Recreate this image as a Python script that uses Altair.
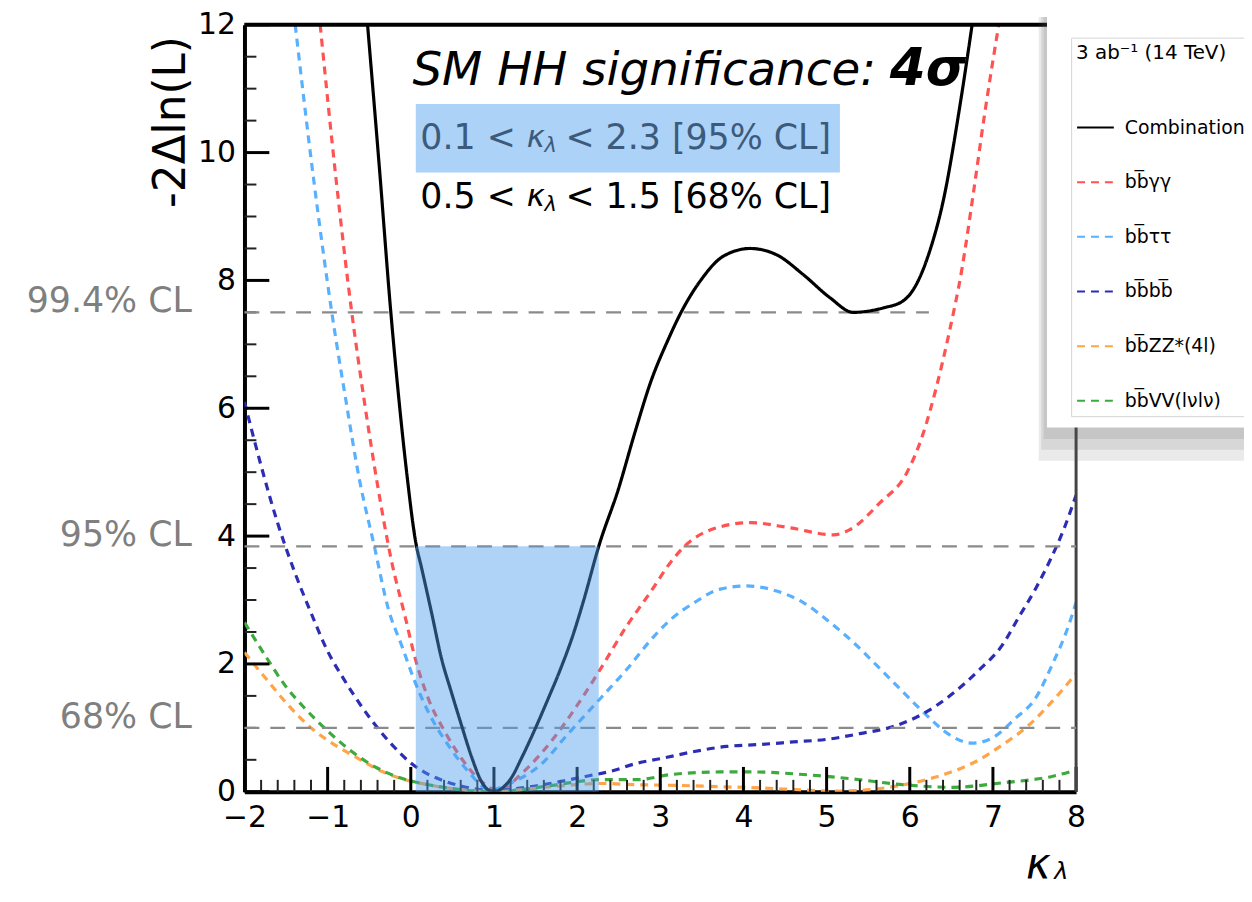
import altair as alt
import pandas as pd

# ---------------- data ----------------
series_names = ["Combination", "bb\u0305\u03b3\u03b3", "bb\u0305\u03c4\u03c4", "bb\u0305bb\u0305",
                "bb\u0305ZZ*(4l)", "bb\u0305VV(l\u03bdl\u03bd)"]
series_colors = ["#000000", "#ff5252", "#58b0ff", "#2c2cb4", "#ffa448", "#3caa3c"]

comb_k = [-0.52, -0.38, -0.24, -0.14, -0.05, 0.06, 0.13, 0.25, 0.37, 0.49, 0.61, 0.73, 0.85, 0.93, 1.0,
          1.08, 1.2, 1.34, 1.48, 1.64, 1.8, 1.95, 2.08, 2.26, 2.5, 2.69, 2.89, 3.09, 3.25, 3.48,
          3.76, 4.08, 4.4, 4.72, 5.04, 5.32, 5.68, 5.92, 6.08, 6.24, 6.4, 6.61, 6.75]
comb_v = [12, 9.8, 7.5, 6.1, 5.0, 3.9, 3.5, 2.8, 2.08, 1.55, 1.04, 0.55, 0.16, 0.03, 0.0,
          0.04, 0.2, 0.55, 0.94, 1.42, 1.92, 2.45, 3.0, 3.84, 4.75, 5.6, 6.43, 7.06, 7.5, 7.99,
          8.38, 8.5, 8.4, 8.09, 7.73, 7.5, 7.57, 7.68, 7.94, 8.46, 9.23, 10.79, 12]

yy_k = [-1.09, -0.9, -0.71, -0.56, -0.4, -0.23, -0.07, 0.05, 0.21, 0.41, 0.61, 0.85, 1.05, 1.36, 1.72,
        2.0, 2.28, 2.6, 2.88, 3.13, 3.3, 3.68, 4.08, 4.56, 5.08, 5.28, 5.64, 5.96, 6.16, 6.32,
        6.47, 6.63, 6.75, 6.9, 7.07]
yy_v = [12, 9.6, 7.5, 6.12, 4.8, 3.6, 2.75, 2.1, 1.46, 0.94, 0.52, 0.16, 0.02, 0.32, 0.84,
        1.35, 1.92, 2.6, 3.12, 3.6, 3.85, 4.13, 4.21, 4.13, 4.02, 4.1, 4.52, 4.98, 5.6, 6.33,
        7.16, 8.2, 9.23, 10.6, 12]

tt_k = [-1.39, -1.17, -0.95, -0.78, -0.62, -0.44, -0.27, -0.11, 0.05, 0.21, 0.45, 0.69, 0.95, 1.24, 1.56,
        1.88, 2.28, 2.6, 2.93, 3.13, 3.41, 3.72, 4.04, 4.4, 4.72, 5.04, 5.32, 5.6, 5.92, 6.2,
        6.48, 6.75, 6.99, 7.27, 7.51, 7.71, 7.91, 8.0]
tt_v = [12, 9.6, 7.5, 6.12, 4.9, 3.85, 2.86, 2.29, 1.72, 1.25, 0.73, 0.32, 0.03, 0.16, 0.42,
        0.89, 1.46, 1.92, 2.44, 2.7, 2.96, 3.17, 3.22, 3.14, 2.96, 2.65, 2.34, 1.98, 1.56, 1.2,
        0.89, 0.76, 0.84, 1.15, 1.46, 1.98, 2.6, 2.96]

bb_k = [-2.0, -1.8, -1.6, -1.4, -1.2, -1.0, -0.8, -0.6, -0.4, -0.2, 0.0, 0.2, 0.4, 0.6, 0.8,
        1.0, 1.2, 1.5, 1.8, 2.1, 2.4, 2.73, 3.01, 3.41, 3.8, 4.2, 4.6, 5.0, 5.4, 5.8,
        6.2, 6.52, 6.83, 7.11, 7.31, 7.51, 7.69, 7.85, 8.0]
bb_v = [6.1, 5.1, 4.2, 3.45, 2.8, 2.2, 1.75, 1.35, 1.0, 0.7, 0.45, 0.28, 0.17, 0.09, 0.04,
        0.02, 0.04, 0.09, 0.16, 0.24, 0.32, 0.45, 0.52, 0.63, 0.71, 0.74, 0.78, 0.82, 0.91, 1.02,
        1.25, 1.54, 1.9, 2.29, 2.73, 3.17, 3.63, 4.1, 4.64]

zz_k = [-2.0, -1.71, -1.47, -1.19, -0.91, -0.63, -0.35, -0.07, 0.21, 0.5, 0.8, 1.0, 1.3, 1.7, 2.28,
        2.73, 3.2, 3.7, 4.2, 4.7, 5.1, 5.4, 5.8, 6.2, 6.52, 6.79, 7.11, 7.43, 7.71, 8.0]
zz_v = [2.18, 1.72, 1.35, 0.99, 0.73, 0.52, 0.32, 0.19, 0.11, 0.05, 0.01, 0.0, 0.03, 0.08, 0.13,
        0.11, 0.1, 0.08, 0.06, 0.03, 0.01, 0.02, 0.08, 0.19, 0.32, 0.47, 0.73, 1.04, 1.41, 1.85]

vv_k = [-2.0, -1.75, -1.51, -1.27, -0.99, -0.71, -0.43, -0.11, 0.21, 0.5, 0.8, 1.0, 1.3, 1.7, 2.28,
        2.73, 3.13, 3.72, 4.12, 4.72, 5.32, 5.92, 6.52, 7.11, 7.71, 8.0]
vv_v = [2.65, 2.13, 1.66, 1.3, 0.94, 0.63, 0.39, 0.21, 0.11, 0.05, 0.01, 0.0, 0.03, 0.1, 0.19,
        0.19, 0.27, 0.31, 0.31, 0.27, 0.2, 0.11, 0.07, 0.14, 0.24, 0.34]

cl_levels = [1.0, 3.84, 7.5]
cl_labels = ["68% CL", "95% CL", "99.4% CL"]
cl_starts = [-2.0, -2.0, -2.0]
cl_ends = [8.0, 8.0, 6.23]

band_lo, band_hi, band_top = 0.06, 2.26, 3.84

x_major = list(range(-2, 9))
x_minor = [round(-2 + 0.2 * i, 1) for i in range(51) if i % 5 != 0]
y_major = [0, 2, 4, 6, 8, 10, 12]
y_minor = [0.5 * i for i in range(25) if i % 4 != 0]

# ---------------- tables ----------------
rows = []
for name, ks, vs in zip(series_names, [comb_k, yy_k, tt_k, bb_k, zz_k, vv_k],
                        [comb_v, yy_v, tt_v, bb_v, zz_v, vv_v]):
    for i, (k, v) in enumerate(zip(ks, vs)):
        rows.append({"series": name, "k": k, "v": v, "idx": i})
curves = pd.DataFrame(rows)
cl_df = pd.DataFrame({"v": cl_levels, "label": cl_labels, "k0": cl_starts, "k1": cl_ends})
one = pd.DataFrame({"_": [0]})

FONT = "DejaVu Sans"
xs = alt.Scale(domain=[-2, 8], nice=False, zero=False)
ys = alt.Scale(domain=[0, 12], nice=False, zero=False)

x_axis = alt.Axis(values=x_major, ticks=False, grid=False, labelFont=FONT, labelFontSize=30,
                  labelColor="black", labelPadding=11, labelFlush=False, domainColor="black",
                  domainWidth=4, title=None)
y_axis = alt.Axis(values=y_major, ticks=False, grid=False, labelFont=FONT, labelFontSize=30,
                  labelColor="black", labelPadding=9, labelFlush=False, domainColor="black",
                  domainWidth=4, title="-2\u0394ln(L)", titleFont=FONT, titleFontSize=44,
                  titleFontWeight="normal", titleColor="black", titleAngle=270, titleAlign="right",
                  titleBaseline="bottom", titleX=-51, titleY=11)

legend = alt.Legend(
    title="3 ab\u207b\u00b9 (14 TeV)", orient="none", legendX=832, legendY=13,
    symbolType="stroke", symbolSize=1369, symbolStrokeWidth=2,
    labelFont=FONT, labelFontSize=19, labelColor="black", labelOffset=10, labelLimit=400,
    titleFont=FONT, titleFontSize=20, titleFontWeight="normal", titleColor="black",
    titlePadding=46, rowPadding=25, padding=5, fillColor="white", strokeColor="#d4d4d4",
)

color_scale = alt.Scale(domain=series_names, range=series_colors)
dash_scale = alt.Scale(domain=series_names, range=[[1, 0]] + [[8, 6]] * 5)


def XF(f):
    return alt.X(f, scale=xs, axis=x_axis)


def YF(f):
    return alt.Y(f, scale=ys, axis=y_axis)


def XD(v):
    return alt.XDatum(v, scale=xs, axis=x_axis)


def YD(v):
    return alt.YDatum(v, scale=ys, axis=y_axis)


def text_layer(text, kx, vy, **kw):
    return alt.Chart(one).mark_text(text=text, **kw).encode(x=XD(kx), y=YD(vy))


def rect_layer(k0, k1, v0, v1, **kw):
    return alt.Chart(one).mark_rect(**kw).encode(
        x=XD(k0), x2=alt.X2Datum(k1), y=YD(v0), y2=alt.Y2Datum(v1))


def rule_layer(k0, k1, v0, v1, **kw):
    return alt.Chart(one).mark_rule(**kw).encode(
        x=XD(k0), x2=alt.X2Datum(k1), y=YD(v0), y2=alt.Y2Datum(v1))


channels = alt.Chart(curves).transform_filter(alt.datum.series != "Combination").mark_line(
    strokeWidth=3.2, clip=True, interpolate="monotone").encode(
    x=XF("k:Q"), y=YF("v:Q"),
    color=alt.Color("series:N", scale=color_scale, legend=legend),
    strokeDash=alt.StrokeDash("series:N", scale=dash_scale, legend=legend),
    order="idx:Q",
)
combo = alt.Chart(curves).transform_filter(alt.datum.series == "Combination").mark_line(
    strokeWidth=3.2, clip=True, interpolate="monotone").encode(
    x=XF("k:Q"), y=YF("v:Q"),
    color=alt.Color("series:N", scale=color_scale, legend=legend),
    strokeDash=alt.StrokeDash("series:N", scale=dash_scale, legend=legend),
    order="idx:Q",
)

# ticks (inward)
xt_major = alt.Chart(pd.DataFrame({"k": x_major})).mark_rule(color="black", strokeWidth=3).encode(
    x=XF("k:Q"), y=alt.value(772), y2=alt.value(747))
xt_minor = alt.Chart(pd.DataFrame({"k": x_minor})).mark_rule(color="#222", strokeWidth=2).encode(
    x=XF("k:Q"), y=alt.value(772), y2=alt.value(760))
yt_major = alt.Chart(pd.DataFrame({"v": y_major})).mark_rule(color="black", strokeWidth=3).encode(
    y=YF("v:Q"), x=alt.value(0), x2=alt.value(25))
yt_minor = alt.Chart(pd.DataFrame({"v": y_minor})).mark_rule(color="#222", strokeWidth=2).encode(
    y=YF("v:Q"), x=alt.value(0), x2=alt.value(12))

frame_top = rule_layer(-2, 8, 12, 12, color="black", strokeWidth=4)
frame_right = rule_layer(8, 8, 0, 12, color="#444444", strokeWidth=3)

cl_rules = alt.Chart(cl_df).mark_rule(color="#8a8a8a", strokeWidth=2.2, strokeDash=[15, 11]).encode(
    x=XF("k0:Q"), x2="k1:Q", y=YF("v:Q"))

cl_text = alt.Chart(cl_df).mark_text(font=FONT, fontSize=35, color="#7f7f7f", align="right",
                                     baseline="alphabetic", dx=-53).encode(
    x=XD(-2), y=YF("v:Q"), text="label:N")

band = rect_layer(band_lo, band_hi, 0, band_top, color="#4b9ded", opacity=0.45)

hl_box = rect_layer(0.06, 5.16, 9.69, 10.76, color="#acd2f7")

sig1 = text_layer("SM HH significance: ", 0.02, 11.05, font=FONT, fontSize=47, fontStyle="italic",
                  align="left", baseline="alphabetic", color="black")
sig2 = text_layer("4\u03c3", 5.76, 11.05, font=FONT, fontSize=52, fontStyle="italic",
                  fontWeight="bold", align="left", baseline="alphabetic", color="black")


def range_line(lo, hi, cl, vy, color):
    common = dict(font=FONT, align="left", baseline="middle", color=color)
    return [
        text_layer(f"{lo} <", 0.115, vy, fontSize=35, **common),
        text_layer("\u03ba", 0.115, vy, fontSize=31, fontStyle="italic", dx=107, **common),
        text_layer("\u03bb", 0.115, vy, fontSize=21, fontStyle="italic", dx=125, dy=8, **common),
        text_layer(f"< {hi} [{cl} CL]", 0.115, vy, fontSize=35, dx=146, **common),
    ]


line95 = range_line("0.1", "2.3", "95%", 10.23, "#3c5b7c")
line68 = range_line("0.5", "1.5", "68%", 9.31, "black")

xt_k = text_layer("\u03ba", 8, 0, font=FONT, fontSize=42, fontStyle="italic", align="center",
                  baseline="middle", dx=-38, dy=74, color="black")
xt_l = text_layer("\u03bb", 8, 0, font=FONT, fontSize=24, fontStyle="italic", align="center",
                  baseline="middle", dx=-15, dy=81, color="black")

shadows = [rect_layer(7.55 + 0.03 * i, 10.3, 5.18 + 0.17 * i, 12.12, color="#555555", opacity=0.12)
           for i in range(3)]
panel = rect_layer(7.65, 10.3, 5.70, 12.12, color="white")

layers = [channels, xt_minor, xt_major, yt_minor, yt_major, frame_top, frame_right, cl_rules,
          combo, band, hl_box, sig1, sig2] + line95 + line68 + [cl_text, xt_k, xt_l] + shadows + [panel]

chart = alt.layer(*layers).properties(
    width=837, height=772,
    padding={"left": 238, "top": 14, "right": 169, "bottom": 94},
    autosize=alt.AutoSizeParams(type="none"),
    background="white",
).configure_view(stroke=None)

chart.save("out.html", embed_options={"renderer": "svg", "actions": False})
